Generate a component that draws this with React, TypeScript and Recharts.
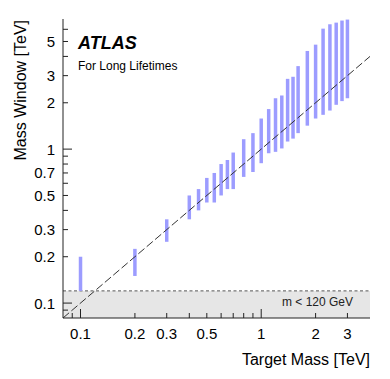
import React from 'react';
import { ComposedChart, Scatter, ErrorBar, XAxis, YAxis, ReferenceArea, ReferenceLine } from 'recharts';

// target masses [TeV] and the mass window edges
const targetMass = [0.1, 0.2, 0.3, 0.4, 0.45, 0.5, 0.55, 0.6, 0.65, 0.7, 0.8, 0.9, 1.0, 1.1, 1.2, 1.3, 1.4, 1.5, 1.6, 1.8, 2.0, 2.2, 2.4, 2.6, 2.8, 3.0];
const windowLow = [0.12, 0.15, 0.25, 0.35, 0.4, 0.45, 0.45, 0.5, 0.55, 0.55, 0.66, 0.71, 0.81, 0.94, 0.96, 1.01, 1.12, 1.17, 1.27, 1.42, 1.58, 1.67, 1.78, 1.94, 2.05, 2.14];
const windowHigh = [0.2, 0.225, 0.35, 0.5, 0.55, 0.65, 0.7, 0.8, 0.85, 0.95, 1.16, 1.27, 1.58, 1.82, 2.14, 2.23, 2.86, 2.95, 3.46, 4.34, 4.77, 6.06, 6.47, 6.63, 6.84, 6.94];

const xDomain = [0.08, 4];
const yDomain = [0.08, 7];
const xLabels = [0.1, 0.2, 0.3, 0.5, 1, 2, 3];
const xMinor = [0.09, 0.4, 0.6, 0.7, 0.8, 0.9];
const yLabels = [0.1, 0.2, 0.3, 0.5, 0.7, 1, 2, 3, 5];
const yMinor = [0.09, 0.4, 0.6, 0.8, 0.9, 4, 6];
const lowMassCut = 0.12;
const diagonal = [{ x: 0.08, y: 0.08 }, { x: 4, y: 4 }];

const data = targetMass.map((m, i) => ({
  mass: m,
  low: windowLow[i],
  err: [0, windowHigh[i] - windowLow[i]],
}));

const xTicks = [...xLabels, ...xMinor].sort((a, b) => a - b);
const yTicks = [...yLabels, ...yMinor].sort((a, b) => a - b);

const FONT = '"Liberation Sans", Arial, Helvetica, sans-serif';
const isDecade = (v: number) => Math.abs(Math.log10(v) - Math.round(Math.log10(v))) < 1e-6;
const tickLen = (v: number) => (isDecade(v) ? 9 : 5);

const BottomTick = (props: any) => {
  const { x, y, payload } = props;
  const v = payload.value;
  return (
    <g>
      <line x1={x} x2={x} y1={y} y2={y - tickLen(v)} stroke="#222" />
      {xLabels.includes(v) && (
        <text x={x} y={y + 21} textAnchor="middle" fontSize={15} fontFamily={FONT} fill="#000">{v}</text>
      )}
    </g>
  );
};

const TopTick = (props: any) => {
  const { x, y, payload } = props;
  return <line x1={x} x2={x} y1={y} y2={y + tickLen(payload.value)} stroke="#222" />;
};

const LeftTick = (props: any) => {
  const { x, y, payload } = props;
  const v = payload.value;
  return (
    <g>
      <line x1={x} x2={x + tickLen(v)} y1={y} y2={y} stroke="#222" />
      {yLabels.includes(v) && (
        <text x={x - 8} y={y + 5.5} textAnchor="end" fontSize={15} fontFamily={FONT} fill="#000">{v}</text>
      )}
    </g>
  );
};

const RightTick = (props: any) => {
  const { x, y, payload } = props;
  return <line x1={x} x2={x - tickLen(payload.value)} y1={y} y2={y} stroke="#222" />;
};

export default function App() {
  return (
    <div style={{ position: 'absolute', left: 0, top: 0, width: 390, height: 379, background: '#fff' }}>
      <ComposedChart width={390} height={379} data={data} margin={{ top: 19, right: 20, bottom: 0, left: 0 }}>
        <XAxis xAxisId="b" dataKey="mass" type="number" scale="log" domain={xDomain} allowDataOverflow
          ticks={xTicks} interval={0} tickSize={0} tickMargin={0} tickLine={false} tick={<BottomTick />}
          height={61} axisLine={{ stroke: '#222' }} />
        <XAxis xAxisId="t" orientation="top" type="number" scale="log" domain={xDomain} allowDataOverflow
          ticks={xTicks} interval={0} tickSize={0} tickMargin={0} tickLine={false} tick={<TopTick />}
          height={0} axisLine={{ stroke: '#222' }} />
        <YAxis yAxisId="l" type="number" scale="log" domain={yDomain} allowDataOverflow
          ticks={yTicks} interval={0} tickSize={0} tickMargin={0} tickLine={false} tick={<LeftTick />}
          width={63} axisLine={{ stroke: '#222' }} />
        <YAxis yAxisId="r" orientation="right" type="number" scale="log" domain={yDomain} allowDataOverflow
          ticks={yTicks} interval={0} tickSize={0} tickMargin={0} tickLine={false} tick={<RightTick />}
          width={0} axisLine={{ stroke: '#222' }} />
        <ReferenceArea xAxisId="b" yAxisId="l" y1={yDomain[0]} y2={lowMassCut} fill="#e6e6e6" fillOpacity={1} stroke="none" />
        <ReferenceLine xAxisId="b" yAxisId="l" y={lowMassCut} stroke="#555" strokeDasharray="3 2.5" />
        <Scatter xAxisId="b" yAxisId="l" dataKey="low" isAnimationActive={false} shape={() => <g />}>
          <ErrorBar dataKey="err" direction="y" width={0} stroke="#9c9cff" strokeWidth={3.5} isAnimationActive={false} />
        </Scatter>
        <ReferenceLine xAxisId="b" yAxisId="l" segment={diagonal} stroke="#333" strokeDasharray="8 3" />
      </ComposedChart>
      <svg width={390} height={379} style={{ position: 'absolute', left: 0, top: 0, pointerEvents: 'none' }} fontFamily={FONT}>
        <text x={78} y={49} fontSize={18} fontWeight="bold" fontStyle="italic">ATLAS</text>
        <text x={78} y={70} fontSize={12}>For Long Lifetimes</text>
        <text x={353} y={306} fontSize={12} textAnchor="end" fill="#222">m &lt; 120 GeV</text>
        <text x={370} y={365} fontSize={16} textAnchor="end">Target Mass [TeV]</text>
        <text transform="translate(26,20) rotate(-90)" fontSize={16} textAnchor="end">Mass Window [TeV]</text>
      </svg>
    </div>
  );
}
